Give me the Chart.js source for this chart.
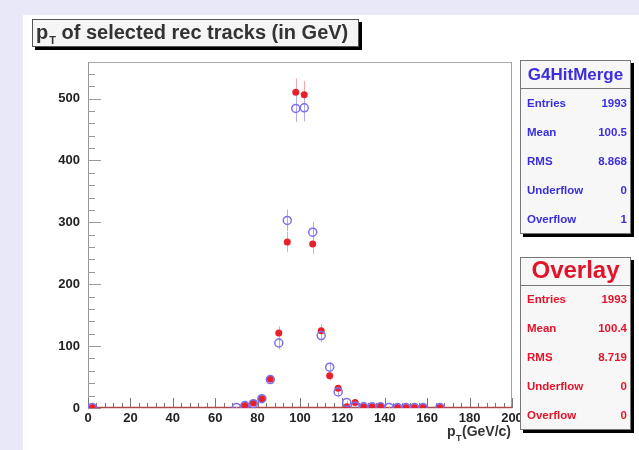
<!DOCTYPE html>
<html><head><meta charset="utf-8">
<script src="https://cdn.jsdelivr.net/npm/chart.js@4.4.1/dist/chart.umd.min.js"></script>
<style>
html,body{margin:0;padding:0;background:#e8e8f8;overflow:hidden;}
#wrap{position:absolute;left:0;top:0;width:639px;height:450px;}
#panel{position:absolute;left:23px;top:15px;width:616px;height:435px;background:#fff;}
canvas{position:absolute;left:0;top:0;}
</style></head><body>
<div id="wrap"><div id="panel"></div><canvas id="c" width="639" height="450"></canvas></div>
<script>
// ---- data ----
const binCenters = [2, 70, 74, 78, 82, 86, 90, 94, 98, 102, 106, 110, 114, 118, 122, 126, 130, 134, 138, 142, 146, 150, 154, 158, 166];
const g4HitMerge = [1, 1, 4, 7, 15, 46, 105, 303, 484, 485, 284, 117, 66, 26, 9, 3, 2, 2, 2, 1, 1, 1, 1, 1, 1];
const overlay    = [1, null, 4, 8, 15, 47, 121, 268, 510, 506, 265, 125, 52, 32, 2, 9, 2, 2, 3, null, 1, 1, 1, 1, 1];
const xTickValues = [0, 20, 40, 60, 80, 100, 120, 140, 160, 180, 200];
const yTickValues = [0, 100, 200, 300, 400, 500];
const statsG4Labels = ["Entries", "Mean", "RMS", "Underflow", "Overflow"];
const statsG4Values = ["1993", "100.5", "8.868", "0", "1"];
const statsOverlayLabels = ["Entries", "Mean", "RMS", "Underflow", "Overflow"];
const statsOverlayValues = ["1993", "100.4", "8.719", "0", "0"];

const FONT = '"Liberation Sans", Arial, Helvetica, sans-serif';
const BLUE = '#3a2ee0';
const RED = '#e3142a';

function pts(vals){
  return binCenters.map((x,i)=>({x:x, y:vals[i]})).filter(p=>p.y!==null);
}

const decor = {
  id:'decor',
  beforeDatasetsDraw(chart){
    const ctx = chart.ctx, xs = chart.scales.x, ys = chart.scales.y, a = chart.chartArea;
    ctx.save();
    // frame
    ctx.lineWidth = 1;
    ctx.strokeStyle = '#aaaaaa';
    ctx.beginPath(); ctx.moveTo(a.left, a.top+0.5); ctx.lineTo(a.right, a.top+0.5); ctx.stroke();
    ctx.strokeStyle = '#999999';
    ctx.beginPath(); ctx.moveTo(a.left+0.5, a.top); ctx.lineTo(a.left+0.5, a.bottom); ctx.stroke();
    ctx.strokeStyle = '#d29090';
    ctx.beginPath(); ctx.moveTo(a.right-0.5, a.top); ctx.lineTo(a.right-0.5, a.bottom); ctx.stroke();
    // y ticks (inside)
    ctx.strokeStyle = '#9a9a9a';
    for(let v=0; v<=ys.max; v+=20){
      const py = Math.round(ys.getPixelForValue(v))+0.5;
      const len = (v%100===0)?13:7;
      ctx.beginPath(); ctx.moveTo(a.left, py); ctx.lineTo(a.left+len, py); ctx.stroke();
    }
    // x ticks (inside)
    ctx.strokeStyle = '#777777';
    for(let v=0; v<=xs.max; v+=4){
      const px = Math.round(xs.getPixelForValue(v))+0.5;
      const len = (v%20===0)?10:5;
      ctx.beginPath(); ctx.moveTo(px, a.bottom); ctx.lineTo(px, a.bottom-len); ctx.stroke();
    }
    ctx.strokeStyle = '#b04848';
    ctx.lineWidth = 1.5;
    ctx.beginPath(); ctx.moveTo(a.left, a.bottom-0.5); ctx.lineTo(a.right, a.bottom-0.5); ctx.stroke();
    // error bars
    const bars = [[1,'#f4a8a8'],[0,'#b0aaf4']];
    ctx.lineWidth = 1;
    bars.forEach(([di,col])=>{
      const ds = chart.data.datasets[di];
      ctx.strokeStyle = col;
      ds.data.forEach(p=>{
        const e = Math.sqrt(p.y);
        const px = Math.round(xs.getPixelForValue(p.x))+0.5;
        ctx.beginPath();
        ctx.moveTo(px, ys.getPixelForValue(p.y+e));
        ctx.lineTo(px, ys.getPixelForValue(Math.max(0,p.y-e)));
        ctx.stroke();
      });
    });
    ctx.restore();
  },
  afterDraw(chart){
    const ctx = chart.ctx;
    ctx.save();
    // title box
    ctx.fillStyle = '#000';
    ctx.fillRect(35, 22, 327, 28);
    ctx.fillStyle = '#f5f5f5';
    ctx.fillRect(32, 19, 327, 28);
    ctx.strokeStyle = '#555';
    ctx.lineWidth = 1;
    ctx.strokeRect(32.5, 19.5, 326, 27);
    ctx.fillStyle = '#333';
    ctx.textBaseline = 'alphabetic';
    ctx.textAlign = 'left';
    ctx.font = 'bold 20px ' + FONT;
    ctx.fillText('p', 36, 39);
    let w = ctx.measureText('p').width;
    ctx.font = 'bold 11px ' + FONT;
    ctx.fillText('T', 36 + w + 1, 44);
    let w2 = ctx.measureText('T').width;
    ctx.font = 'bold 20px ' + FONT;
    ctx.fillText(' of selected rec tracks (in GeV)', 36 + w + w2 + 1, 39);

    // x axis title
    ctx.fillStyle = '#333';
    ctx.font = 'bold 14px ' + FONT;
    ctx.textAlign = 'right';
    ctx.fillText('(GeV/c)', 511, 436);
    const tw = ctx.measureText('(GeV/c)').width;
    ctx.font = 'bold 9px ' + FONT;
    const sw = ctx.measureText('T').width;
    ctx.fillText('T', 511 - tw - 0.5, 441);
    ctx.font = 'bold 14px ' + FONT;
    ctx.fillText('p', 511 - tw - sw - 1, 436);

    // stats boxes
    function statsBox(x, y, wd, ht, sepY, header, hFont, hY, color, labels, values, rowYs){
      ctx.fillStyle = '#000';
      ctx.fillRect(x+3, y+3, wd, ht);
      ctx.fillStyle = '#f7f7f7';
      ctx.fillRect(x, y, wd, ht);
      ctx.strokeStyle = '#777';
      ctx.lineWidth = 1;
      ctx.strokeRect(x+0.5, y+0.5, wd-1, ht-1);
      ctx.beginPath(); ctx.moveTo(x, sepY+0.5); ctx.lineTo(x+wd, sepY+0.5); ctx.stroke();
      ctx.fillStyle = color;
      ctx.textBaseline = 'middle';
      ctx.textAlign = 'center';
      ctx.font = hFont;
      ctx.fillText(header, x + wd/2, hY);
      ctx.font = 'bold 11.5px ' + FONT;
      labels.forEach((l,i)=>{
        ctx.textAlign = 'left';
        ctx.fillText(l, x + 7, rowYs[i]);
        ctx.textAlign = 'right';
        ctx.fillText(values[i], x + wd - 4, rowYs[i]);
      });
    }
    statsBox(520, 60, 111, 174, 88, 'G4HitMerge', 'bold 17px ' + FONT, 75, BLUE,
      statsG4Labels, statsG4Values, [104, 133, 162, 191, 220]);
    statsBox(520, 257, 111, 173, 285, 'Overlay', 'bold 24px ' + FONT, 271, RED,
      statsOverlayLabels, statsOverlayValues, [300, 329, 358, 387, 416]);
    ctx.restore();
  }
};

new Chart(document.getElementById('c'), {
  type: 'scatter',
  data: {
    datasets: [
      { label: 'G4HitMerge', data: pts(g4HitMerge), order: 0,
        pointStyle: 'circle', pointRadius: 4, pointBorderWidth: 1.5,
        pointBackgroundColor: 'rgba(0,0,0,0)', pointBorderColor: '#7d70ee', showLine: false },
      { label: 'Overlay', data: pts(overlay), order: 1,
        pointStyle: 'circle', pointRadius: 3.5, pointBorderWidth: 0,
        pointBackgroundColor: '#e8202c', pointBorderColor: '#e8202c', showLine: false }
    ]
  },
  options: {
    responsive: false, animation: false, devicePixelRatio: 1,
    layout: { padding: { left: 0, top: 62, right: 127, bottom: 0 } },
    plugins: { legend: { display: false }, tooltip: { enabled: false }, title: { display: false } },
    scales: {
      x: {
        type: 'linear', min: 0, max: 200,
        afterBuildTicks: s => { s.ticks = xTickValues.map(v => ({ value: v })); },
        afterFit: s => { s.height = 42; },
        grid: { display: false, drawTicks: false }, border: { display: false },
        ticks: { autoSkip: false, maxRotation: 0, padding: 3, color: '#222',
                 font: { family: FONT, size: 13, weight: 'bold' } }
      },
      y: {
        type: 'linear', min: 0, max: 559,
        afterBuildTicks: s => { s.ticks = yTickValues.map(v => ({ value: v })); },
        afterFit: s => { s.width = 88; },
        grid: { display: false, drawTicks: false }, border: { display: false },
        ticks: { padding: 8, color: '#222',
                 font: { family: FONT, size: 13, weight: 'bold' } }
      }
    }
  },
  plugins: [decor]
});
</script>
</body></html>
